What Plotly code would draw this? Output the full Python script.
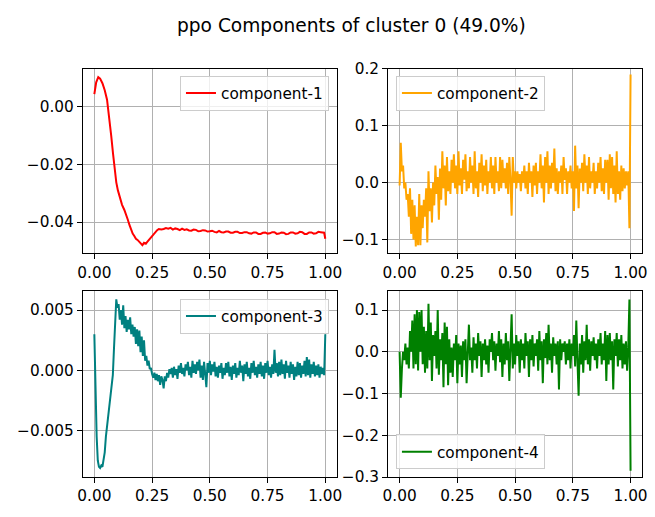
import numpy as np
import plotly.graph_objects as go

# ---------------- data ----------------
c1_x = [0, 0.008, 0.017, 0.025, 0.035, 0.045, 0.055, 0.065, 0.073, 0.081, 0.088, 0.095,
        0.102, 0.109, 0.12, 0.13, 0.138, 0.145, 0.152, 0.16, 0.166, 0.173, 0.18, 0.187,
        0.194, 0.2, 0.208, 0.215, 0.223, 0.23, 0.235, 0.243, 0.251, 0.258, 0.265, 0.272,
        0.279, 0.29, 0.3, 0.31, 0.32, 0.33, 0.34, 0.35, 0.36, 0.37, 0.38, 0.39, 0.4, 0.41,
        0.42, 0.43, 0.44, 0.45, 0.46, 0.47, 0.48, 0.49, 0.5, 0.51, 0.52, 0.53, 0.54, 0.55,
        0.56, 0.57, 0.58, 0.59, 0.6, 0.61, 0.62, 0.63, 0.64, 0.65, 0.66, 0.67, 0.68, 0.69,
        0.7, 0.71, 0.72, 0.73, 0.74, 0.75, 0.76, 0.77, 0.78, 0.79, 0.8, 0.81, 0.82, 0.83,
        0.84, 0.85, 0.86, 0.87, 0.88, 0.89, 0.9, 0.91, 0.92, 0.93, 0.94, 0.95, 0.96, 0.97,
        0.98, 0.99, 0.995, 1.0]
c1_y = [0.0044, 0.0085, 0.0103, 0.0098, 0.0082, 0.0058, 0.0025, -0.0035, -0.010, -0.0163,
        -0.022, -0.0262, -0.029, -0.031, -0.034, -0.0358, -0.0374, -0.0392, -0.041, -0.0428,
        -0.044, -0.0448, -0.0458, -0.0462, -0.0469, -0.0474, -0.048, -0.0472, -0.0475,
        -0.0468, -0.0463, -0.0458, -0.045, -0.0443, -0.0435, -0.0428, -0.0424, -0.0426,
        -0.0424, -0.0421, -0.0423, -0.0420, -0.0426, -0.0422, -0.0424, -0.0428, -0.0423,
        -0.0427, -0.0425, -0.0429, -0.0430, -0.0426, -0.0427, -0.0432, -0.0431, -0.0428,
        -0.0429, -0.0433, -0.0432, -0.0430, -0.0434, -0.0436, -0.0431, -0.0435, -0.0436,
        -0.0433, -0.0433, -0.0437, -0.0437, -0.0434, -0.0434, -0.0438, -0.0438, -0.0435,
        -0.0435, -0.0439, -0.0440, -0.0436, -0.0436, -0.0441, -0.0441, -0.0437, -0.0436,
        -0.0440, -0.0439, -0.0435, -0.0435, -0.0441, -0.0440, -0.0436, -0.0437, -0.0442,
        -0.0441, -0.0436, -0.0436, -0.0440, -0.0439, -0.0434, -0.0435, -0.0441, -0.0441,
        -0.0436, -0.0436, -0.0440, -0.0439, -0.0434, -0.0435, -0.0438, -0.0437, -0.0458]

c2_y = [-0.005, 0.07, 0.02, 0.03, -0.01, 0.0, -0.03, -0.02, -0.06, -0.01,
        -0.09, -0.03, -0.10, -0.04, -0.112, -0.06, -0.11, -0.02, -0.11, -0.04,
        -0.08, -0.03, -0.06, -0.01, -0.105, 0.02, -0.05, -0.01, -0.07, 0.0,
        -0.04, 0.03, -0.02, 0.01, -0.065, 0.025, -0.03, 0.055, -0.01, 0.03,
        -0.04, 0.045, -0.015, 0.02, -0.02, 0.04, 0.0, 0.05, -0.01, 0.03,
        -0.02, 0.055, -0.005, 0.025, -0.02, 0.04, 0.005, 0.05, -0.015, 0.02,
        -0.01, 0.045, 0.0, 0.03, -0.02, 0.055, -0.01, 0.02, -0.025, 0.035,
        0.0, 0.05, -0.015, 0.03, -0.005, 0.04, -0.02, 0.02, 0.0, 0.045,
        -0.01, 0.03, -0.02, 0.045, 0.0, 0.02, -0.015, 0.045, -0.01, 0.04,
        0.0, 0.025, -0.01, 0.035, -0.02, 0.045, 0.005, -0.058, 0.045, 0.0,
        0.02, -0.01, 0.02, 0.0, 0.015, -0.015, 0.02, 0.0, 0.03, -0.01,
        0.02, -0.02, 0.035, 0.0, 0.02, -0.025, 0.03, -0.005, 0.035, -0.02,
        0.02, 0.0, 0.05, -0.01, 0.03, -0.035, 0.045, 0.0, 0.055, -0.02,
        0.03, -0.01, 0.035, 0.0, 0.06, -0.015, 0.025, -0.02, 0.02, 0.0,
        0.03, -0.02, 0.045, 0.005, 0.025, -0.02, 0.02, 0.0, 0.03, -0.01,
        0.02, -0.05, 0.065, -0.01, 0.03, -0.045, 0.025, 0.0, 0.035, -0.015,
        0.05, 0.0, 0.03, -0.02, 0.045, -0.01, 0.02, 0.0, 0.035, -0.02,
        0.02, -0.01, 0.035, 0.0, 0.045, -0.015, 0.025, -0.02, 0.04, 0.0,
        0.04, -0.03, 0.05, -0.01, 0.045, -0.02, 0.03, -0.035, 0.055, -0.02,
        0.02, -0.03, 0.03, -0.015, 0.025, -0.01, 0.02, -0.005, 0.02, -0.08,
        0.19]

c3_y = [0.003, -0.002, -0.0055, -0.0075, -0.008, -0.0081, -0.0079, -0.008, -0.0075, -0.0068,
        -0.0055, -0.0047, -0.004, -0.0032, -0.0025, -0.0014, -0.0004, 0.0018, 0.0042, 0.0059,
        0.0052, 0.0055, 0.0042, 0.005, 0.0038, 0.0054, 0.0035, 0.0045, 0.0032, 0.0042,
        0.0034, 0.0044, 0.003, 0.0038, 0.0028, 0.0036, 0.0022, 0.0034, 0.002, 0.0033,
        0.0015, 0.0028, 0.0012, 0.0025, 0.0008, 0.0012, 0.0004, 0.0008, 0.0001, 0.0002,
        -0.0003, -0.0006, -0.0002, -0.0008, -0.0003, -0.0009, -0.0004, -0.0012, -0.0005, -0.0008,
        -0.0015, -0.0005, -0.0009, -0.0002, -0.0006, 0.0001, -0.0003, 0.0002, -0.0006, 0.0003,
        -0.0004, 0.0001, -0.0007, 0.0004, -0.0002, 0.0006, -0.0003, 0.0002, -0.0005, 0.0005,
        0.0, 0.0007, -0.0004, 0.0003, -0.0006, 0.0008, -0.0002, 0.0005, -0.0003, 0.0007,
        0.0, 0.0009, -0.0006, 0.0004, -0.0008, 0.0007, -0.0003, -0.0014, 0.0006, -0.0002,
        0.0008, -0.0004, 0.0005, -0.0001, 0.0007, -0.0005, 0.0003, -0.0006, 0.0004, -0.0002,
        0.0006, -0.0007, 0.0002, -0.0004, 0.0006, -0.0002, 0.0007, -0.0005, 0.0003, -0.0008,
        0.0004, -0.0003, 0.0006, -0.0006, 0.0002, -0.0004, 0.0008, -0.0002, 0.0004, -0.0009,
        0.0005, -0.0003, 0.0007, -0.0005, 0.0002, -0.0007, 0.0006, -0.0002, 0.0008, -0.0004,
        0.0003, -0.0006, 0.0005, -0.0003, 0.0007, -0.0005, 0.0004, -0.0007, 0.0006, -0.0002,
        0.0008, -0.0004, 0.0003, -0.0006, 0.0005, -0.0003, 0.0017, -0.0002, 0.0006, -0.0005,
        0.0007, -0.0004, 0.0009, -0.0003, 0.0005, -0.0007, 0.0008, -0.0002, 0.0004, -0.0006,
        0.0007, -0.0003, 0.0005, -0.0008, 0.0003, -0.0005, 0.0007, -0.0004, 0.0006, -0.0006,
        0.0004, -0.0003, 0.0008, -0.0005, 0.0011, -0.0004, 0.0009, -0.0006, 0.0005, -0.0003,
        0.0007, -0.0005, 0.0004, -0.0004, 0.0005, -0.0006, 0.0003, -0.0003, 0.0002, -0.0004,
        0.003]

c4_y = [0.0, -0.11, -0.04, 0.0, -0.02, 0.02, -0.03, 0.01, -0.04, 0.05,
        0.0, 0.075, -0.04, 0.09, -0.03, 0.1, -0.045, 0.095, 0.0, 0.1,
        -0.03, 0.06, -0.05, 0.05, -0.04, 0.115, -0.02, 0.07, -0.07, 0.04,
        -0.01, 0.05, -0.04, 0.1, -0.055, 0.03, -0.02, 0.045, -0.085, 0.07,
        -0.03, 0.06, -0.08, 0.03, -0.05, 0.01, -0.06, 0.02, -0.02, 0.04,
        -0.075, 0.02, -0.03, 0.015, -0.06, 0.025, -0.02, 0.03, -0.075, 0.02,
        0.065, -0.02, 0.01, -0.05, 0.035, -0.02, 0.02, -0.04, 0.045, -0.01,
        0.025, -0.06, 0.02, -0.02, 0.03, -0.03, 0.015, -0.05, 0.03, 0.0,
        0.045, -0.02, 0.025, -0.045, 0.02, -0.01, 0.05, -0.025, 0.03, -0.06,
        0.02, -0.03, 0.045, -0.02, 0.025, -0.07, 0.03, 0.09, -0.04, 0.02,
        -0.03, 0.04, -0.01, 0.025, -0.05, 0.03, -0.02, 0.02, -0.04, 0.045,
        -0.01, 0.025, -0.06, 0.03, -0.02, 0.04, -0.035, 0.02, -0.01, 0.03,
        -0.045, 0.05, -0.02, 0.025, -0.075, 0.03, -0.015, 0.045, -0.03, 0.065,
        -0.02, 0.02, -0.05, 0.035, -0.01, 0.02, -0.03, 0.025, -0.09, 0.03,
        -0.02, 0.02, 0.0, 0.025, -0.03, 0.02, -0.02, 0.03, -0.04, 0.02,
        -0.01, 0.04, -0.035, 0.075, -0.02, -0.105, 0.02, -0.03, 0.04, -0.05,
        0.025, -0.02, 0.065, -0.03, 0.03, -0.045, 0.025, -0.01, 0.035, -0.02,
        0.02, -0.04, 0.03, -0.01, 0.045, -0.03, 0.02, -0.02, 0.05, -0.07,
        0.04, -0.03, 0.045, -0.02, 0.025, -0.09, 0.03, -0.01, 0.045, -0.035,
        0.03, -0.02, 0.04, -0.04, 0.02, -0.03, 0.025, -0.045, 0.01, 0.125,
        -0.285]

x_grid = np.linspace(0, 1, len(c2_y))

names = ["component-1", "component-2", "component-3", "component-4"]
colors = ["red", "orange", "teal", "green"]
title = "ppo Components of cluster 0 (49.0%)"

# ---------------- figure ----------------
W, H = 655, 517
font = dict(family="DejaVu Sans", size=15.3, color="black")

fig = go.Figure()
series = [(c1_x, c1_y), (list(x_grid), c2_y), (list(x_grid), c3_y), (list(x_grid), c4_y)]
for i, ((xs, ys), nm, col) in enumerate(zip(series, names, colors)):
    ax = "" if i == 0 else str(i + 1)
    fig.add_trace(go.Scatter(x=xs, y=ys, mode="lines", name=nm,
                             line=dict(color=col, width=2),
                             xaxis="x" + ax, yaxis="y" + ax,
                             legend="legend" if i == 0 else "legend" + str(i + 1)))

def px_x(p):
    return p / W

def px_y(p):
    return 1 - p / H

xdom_l = [px_x(79), px_x(337)]
xdom_r = [px_x(389), px_x(647)]
ydom_t = [px_y(253), px_y(62)]
ydom_b = [px_y(485), px_y(292)]

common_ax = dict(showline=True, linecolor="black", linewidth=1, mirror=True,
                 ticks="outside", ticklen=5, tickwidth=1, tickcolor="black",
                 showgrid=True, gridcolor="#b0b0b0", gridwidth=1, zeroline=False,
                 tickfont=font)

xr = [-0.05, 1.05]
xt = dict(tickmode="linear", tick0=0, dtick=0.25, tickformat=".2f", range=xr)

layout_axes = dict(
    xaxis=dict(domain=xdom_l, anchor="y", **xt, **common_ax),
    yaxis=dict(domain=ydom_t, anchor="x", range=[-0.0508, 0.0132], tick0=0, dtick=0.02,
               tickformat=".2f", **common_ax),
    xaxis2=dict(domain=xdom_r, anchor="y2", **xt, **common_ax),
    yaxis2=dict(domain=ydom_t, anchor="x2", range=[-0.124, 0.2], tick0=0, dtick=0.1,
                tickformat=".1f", **common_ax),
    xaxis3=dict(domain=xdom_l, anchor="y3", **xt, **common_ax),
    yaxis3=dict(domain=ydom_b, anchor="x3", range=[-0.00886, 0.0066], tick0=0, dtick=0.005,
                tickformat=".3f", **common_ax),
    xaxis4=dict(domain=xdom_r, anchor="y4", **xt, **common_ax),
    yaxis4=dict(domain=ydom_b, anchor="x4", range=[-0.30, 0.146], tick0=0, dtick=0.1,
                tickformat=".1f", **common_ax),
)

leg_common = dict(bgcolor="rgba(255,255,255,0.8)", bordercolor="#cccccc", borderwidth=1,
                  font=font, itemwidth=30, tracegroupgap=0)

fig.update_layout(
    width=W, height=H,
    margin=dict(l=0, r=0, t=0, b=0),
    paper_bgcolor="white", plot_bgcolor="white",
    font=font,
    showlegend=True,
    legend=dict(x=px_x(329), y=px_y(69), xanchor="right", yanchor="top", **leg_common),
    legend2=dict(x=px_x(397), y=px_y(69), xanchor="left", yanchor="top", **leg_common),
    legend3=dict(x=px_x(329), y=px_y(300), xanchor="right", yanchor="top", **leg_common),
    legend4=dict(x=px_x(397), y=px_y(477), xanchor="left", yanchor="bottom", **leg_common),
    annotations=[dict(text=title, x=px_x(352), y=px_y(17), xref="paper", yref="paper",
                      xanchor="center", yanchor="middle", showarrow=False,
                      font=dict(family="DejaVu Sans", size=18.6, color="black"))],
    **layout_axes,
)

fig.write_html("out.html")
